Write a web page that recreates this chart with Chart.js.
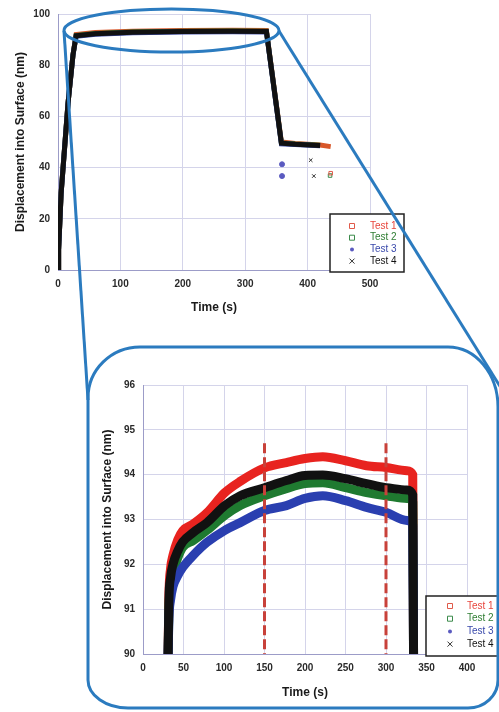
<!DOCTYPE html>
<html>
<head>
<meta charset="utf-8">
<title>Displacement into Surface</title>
<script src="https://cdn.jsdelivr.net/npm/chart.js@4.4.1/dist/chart.umd.min.js"></script>
<style>
  body { margin: 0; background: #fff; }
  #page { position: relative; width: 499px; height: 712px; overflow: hidden; background: #fff; }
  #topChart { position: absolute; left: 0; top: 0; }
  #zoomChart { position: absolute; left: 90px; top: 350px; }
  #callout { position: absolute; left: 0; top: 0; pointer-events: none; }
  #callout * { fill: none; stroke: #2b7bbf; stroke-width: 3; }
</style>
</head>
<body>
<div id="page">
  <canvas id="topChart" width="420" height="320"></canvas>
  <canvas id="zoomChart" width="409" height="360"></canvas>
  <svg id="callout" width="499" height="712">
    <ellipse cx="171.5" cy="30.5" rx="107.5" ry="21.5"/>
    <line x1="64" y1="31" x2="88" y2="400"/>
    <line x1="279" y1="31" x2="501" y2="388"/>
    <path d="M 140 347 H 448 A 50 60 0 0 1 498 407 V 680 A 30 28 0 0 1 468 708 H 128 A 40 28 0 0 1 88 680 V 398 A 52 51 0 0 1 140 347 Z"/>
  </svg>
</div>
<script>
// full test: load, hold, unload, hold
const topTime  = [0, 1, 5, 16, 24, 29, 60, 120, 200, 280, 334, 358, 380, 420, 437];
const topTest1 = [0, 8, 30, 65, 84, 92.0, 92.8, 93.3, 93.6, 93.7, 93.6, 50.0, 49.4, 48.8, 48.2];
const topTest2 = [0, 8, 30, 65, 84, 91.6, 92.4, 93.0, 93.3, 93.4, 93.3, 49.6, 49.2, 48.7, null];
const topTest3 = [0, 8, 30, 65, 84, 91.3, 92.1, 92.7, 93.0, 93.1, 93.0, 49.3, 49.0, 48.5, null];
const topTest4 = [0, 8, 30, 65, 84, 91.5, 92.3, 92.9, 93.2, 93.3, 93.2, 49.5, 49.1, 48.6, null];

// stray points after unloading
const strayTime1 = [437];
const strayTest1 = [37.8];
const strayTime2 = [436];
const strayTest2 = [36.9];
const strayTime3 = [359, 359];
const strayTest3 = [41.3, 36.7];
const strayTime4 = [405, 410];
const strayTest4 = [42.9, 36.7];

// zoom on the hold segment
const zoomTime  = [31, 32, 34, 37, 43, 49, 62, 79, 101, 120, 150, 177, 200, 222, 250, 276, 300, 326, 333, 334];
const zoomTest1 = [90, 91.3, 91.9, 92.2, 92.55, 92.75, 92.9, 93.15, 93.6, 93.85, 94.15, 94.27, 94.36, 94.4, 94.31, 94.2, 94.16, 94.09, 94.0, 90];
const zoomTest2 = [90, 91.0, 91.5, 91.8, 92.15, 92.38, 92.53, 92.76, 93.09, 93.31, 93.53, 93.69, 93.8, 93.82, 93.71, 93.6, 93.53, 93.47, 93.38, 90];
const zoomTest3 = [90, 90.8, 91.2, 91.5, 91.75, 91.93, 92.2, 92.49, 92.76, 92.93, 93.2, 93.31, 93.47, 93.53, 93.42, 93.27, 93.16, 92.98, 92.87, 90];
const zoomTest4 = [90, 91.2, 91.7, 92.0, 92.3, 92.5, 92.71, 92.93, 93.31, 93.53, 93.71, 93.87, 93.98, 93.99, 93.91, 93.8, 93.71, 93.66, 93.55, 90];

const holdMarks = [150, 300];
const holdMarkTop = 94.7;
const holdMarkBottom = 90;

const topXTicks = [0, 100, 200, 300, 400, 500];
const topYTicks = [0, 20, 40, 60, 80, 100];
const zoomXTicks = [0, 50, 100, 150, 200, 250, 300, 350, 400];
const zoomYTicks = [90, 91, 92, 93, 94, 95, 96];

const legendLabels = ['Test 1', 'Test 2', 'Test 3', 'Test 4'];

Chart.defaults.font.family = "'Liberation Sans', Arial, sans-serif";

function pairs(xs, ys) {
    return xs.map((x, i) => ({ x: x, y: ys[i] }));
}

function drawMarker(ctx, style, x, y, color) {
    ctx.strokeStyle = color;
    ctx.fillStyle = color;
    ctx.lineWidth = 1;
    ctx.beginPath();
    if (style === 'rect') {
        ctx.rect(x - 2.5, y - 2.5, 5, 5);
        ctx.stroke();
    } else if (style === 'circle') {
        ctx.arc(x, y, 2, 0, Math.PI * 2);
        ctx.fill();
    } else {
        ctx.moveTo(x - 2.5, y - 2.5); ctx.lineTo(x + 2.5, y + 2.5);
        ctx.moveTo(x + 2.5, y - 2.5); ctx.lineTo(x - 2.5, y + 2.5);
        ctx.stroke();
    }
}

// legend box drawn inside the plot, like the original figure
const boxLegend = {
    id: 'boxLegend',
    afterDraw(chart, args, opts) {
        const ctx = chart.ctx;
        const items = chart.data.datasets.filter(d => d.marker);
        ctx.save();
        ctx.fillStyle = '#fff';
        ctx.fillRect(opts.x, opts.y, opts.w, opts.h);
        ctx.strokeStyle = '#222';
        ctx.lineWidth = 1.5;
        ctx.strokeRect(opts.x, opts.y, opts.w, opts.h);
        ctx.font = "10px 'Liberation Sans', Arial, sans-serif";
        ctx.textBaseline = 'middle';
        items.forEach((d, i) => {
            const y = opts.y + opts.first + i * opts.step;
            drawMarker(ctx, d.marker, opts.x + opts.markX, y, d.markerColor);
            ctx.fillStyle = d.textColor;
            ctx.fillText(d.label, opts.x + opts.textX, y);
        });
        ctx.restore();
    }
};

function axis(ticks, title, size, titlePad) {
    return {
        type: 'linear',
        min: ticks[0],
        max: ticks[ticks.length - 1],
        afterBuildTicks: s => { s.ticks = ticks.map(v => ({ value: v })); },
        afterFit: s => { if (s.isHorizontal()) s.height = size; else s.width = size; },
        grid: { color: '#d4d4ea', drawTicks: false },
        border: { color: '#9c9cc8' },
        ticks: { padding: 8, color: '#2a2a2a', font: { size: 10, weight: 'bold' } },
        title: {
            display: true,
            text: title,
            color: '#1a1a1a',
            font: { size: 12, weight: 'bold' },
            padding: titlePad
        }
    };
}

const styles = [
    { line: '#d8572a', zoom: '#e8231f', marker: 'rect', markerColor: '#e05a4a', textColor: '#e8453c' },
    { line: '#2e7d32', zoom: '#1f7a30', marker: 'rect', markerColor: '#3a8a4a', textColor: '#2e7d32' },
    { line: '#3949ab', zoom: '#2a3fb0', marker: 'circle', markerColor: '#5a5ac0', textColor: '#3949ab' },
    { line: '#111111', zoom: '#111111', marker: 'cross', markerColor: '#333333', textColor: '#111111' }
];

function lineSet(i, xs, ys, width, zoomed) {
    const st = styles[i];
    return {
        label: legendLabels[i],
        data: pairs(xs, ys),
        borderColor: zoomed ? st.zoom : st.line,
        borderWidth: width,
        pointRadius: 0,
        cubicInterpolationMode: zoomed ? 'monotone' : 'default',
        order: 4 - i,
        marker: st.marker,
        markerColor: st.markerColor,
        textColor: st.textColor
    };
}

function straySet(i, xs, ys) {
    const st = styles[i];
    return {
        data: pairs(xs, ys),
        showLine: false,
        pointRadius: 2.5,
        pointStyle: st.marker === 'cross' ? 'crossRot' : st.marker,
        borderColor: st.markerColor,
        backgroundColor: st.marker === 'rect' ? 'rgba(0,0,0,0)' : st.markerColor,
        borderWidth: 1,
        order: 0
    };
}

new Chart(document.getElementById('topChart'), {
    type: 'line',
    data: {
        datasets: [
            lineSet(0, topTime, topTest1, 5, false),
            lineSet(1, topTime, topTest2, 5, false),
            lineSet(2, topTime, topTest3, 5, false),
            lineSet(3, topTime, topTest4, 5, false),
            straySet(0, strayTime1, strayTest1),
            straySet(1, strayTime2, strayTest2),
            straySet(2, strayTime3, strayTest3),
            straySet(3, strayTime4, strayTest4)
        ]
    },
    options: {
        responsive: false,
        animation: false,
        events: [],
        layout: { padding: { top: 11, right: 50, left: 0, bottom: 0 } },
        plugins: {
            legend: { display: false },
            tooltip: { enabled: false },
            boxLegend: { x: 330, y: 214, w: 74, h: 58, first: 12, step: 11.7, markX: 22, textX: 40 }
        },
        scales: {
            x: axis(topXTicks, 'Time (s)', 50, { top: 0, bottom: 5 }),
            y: axis(topYTicks, 'Displacement into Surface (nm)', 58, { top: 13, bottom: 0 })
        }
    },
    plugins: [boxLegend]
});

const markSets = holdMarks.map(t => ({
    data: pairs([t, t], [holdMarkTop, holdMarkBottom]),
    borderColor: '#c8413a',
    borderWidth: 3,
    borderDash: [10, 4],
    pointRadius: 0,
    order: 0
}));

new Chart(document.getElementById('zoomChart'), {
    type: 'line',
    data: {
        datasets: [
            lineSet(0, zoomTime, zoomTest1, 9, true),
            lineSet(1, zoomTime, zoomTest2, 9, true),
            lineSet(2, zoomTime, zoomTest3, 9, true),
            lineSet(3, zoomTime, zoomTest4, 9, true)
        ].concat(markSets)
    },
    options: {
        responsive: false,
        animation: false,
        events: [],
        layout: { padding: { top: 35, right: 32, left: 0, bottom: 0 } },
        plugins: {
            legend: { display: false },
            tooltip: { enabled: false },
            boxLegend: { x: 336, y: 246, w: 72, h: 60, first: 10, step: 12.7, markX: 24, textX: 41 }
        },
        scales: {
            x: axis(zoomXTicks, 'Time (s)', 56, { top: 0, bottom: 10 }),
            y: axis(zoomYTicks, 'Displacement into Surface (nm)', 53, { top: 10, bottom: 0 })
        }
    },
    plugins: [boxLegend]
});
</script>
</body>
</html>
